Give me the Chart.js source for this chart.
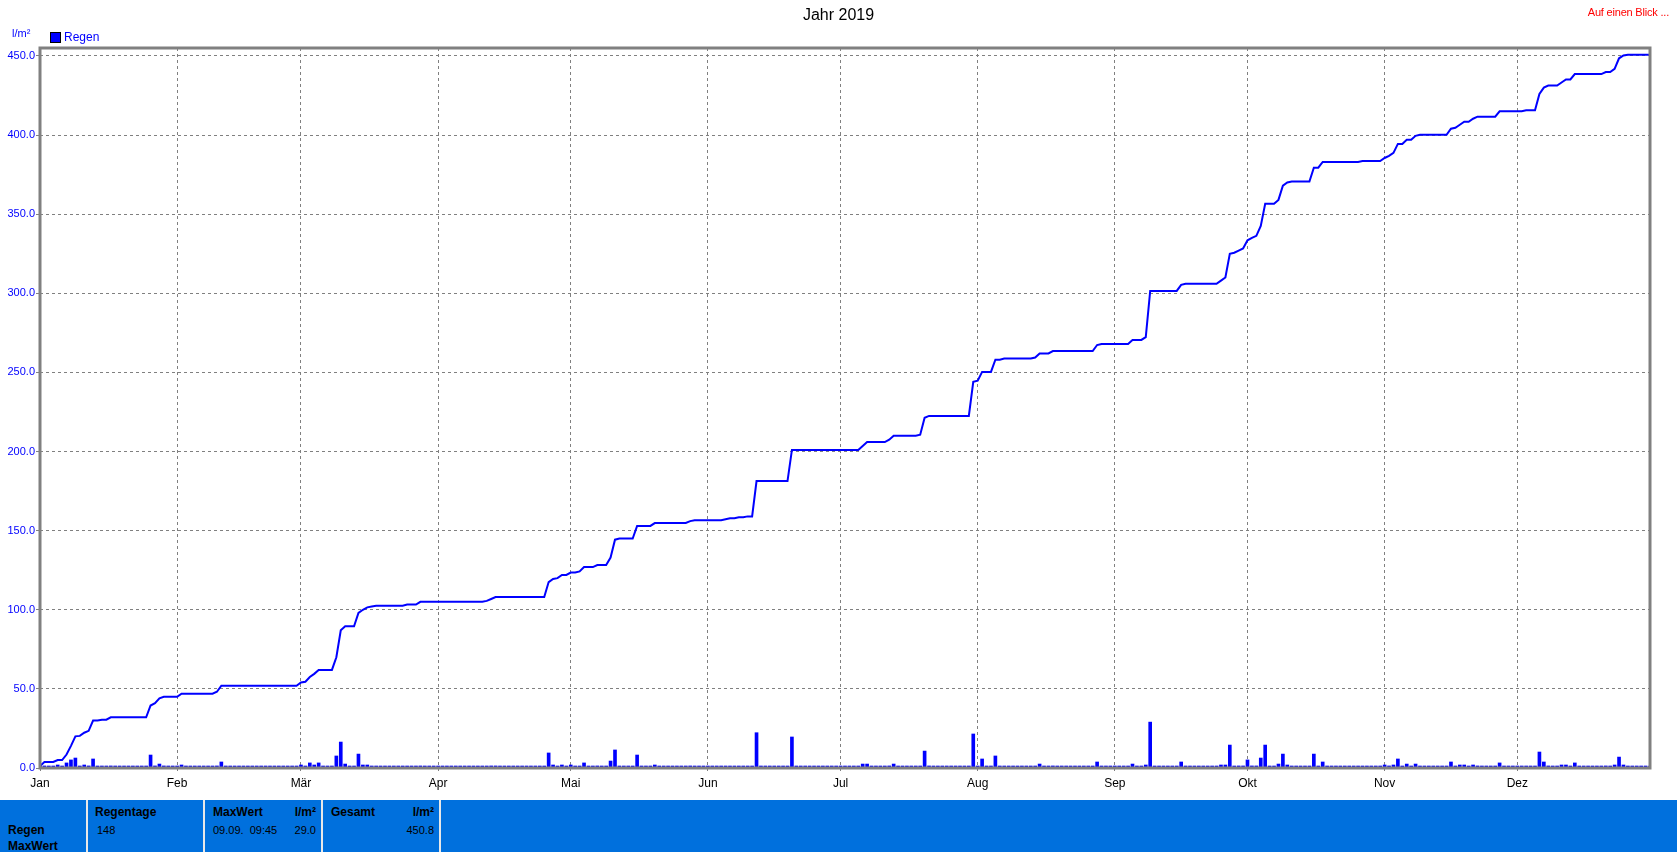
<!DOCTYPE html>
<html lang="de">
<head>
  <meta charset="UTF-8">
  <title>Jahr 2019 - Regen</title>
  <script src="https://cdn.jsdelivr.net/npm/chart.js"></script>
  <style>
    body { margin: 0; background: #fff; font-family: "Liberation Sans", Arial, sans-serif; }
    #wrap { position: relative; width: 1677px; height: 852px; overflow: hidden; }
    #regenChart { position: absolute; left: 0; top: 0; }
    .txt { position: absolute; white-space: pre; line-height: 14px; }
    #title { left: 0; width: 1677px; top: 8px; text-align: center; font-size: 16px; color: #000; }
    #blick { right: 8px; top: 5px; font-size: 11px; letter-spacing: -0.2px; color: #ff0000; }
    #unit { left: 12px; top: 26px; font-size: 11px; color: #0000ff; }
    #legendBox { position: absolute; left: 50px; top: 32px; width: 9px; height: 9px; background: #0000ff; border: 1px solid #000; }
    #legendText { left: 64px; top: 30px; font-size: 12px; color: #0000ff; }
    #panel { position: absolute; left: 0; top: 800px; width: 1677px; height: 52px; background: #0070dd; }
    .sep { position: absolute; top: 0; width: 2px; height: 52px; background: #e8e8e8; }
    .b { font-weight: bold; font-size: 12px; color: #000; }
    .n { font-size: 11px; color: #000; }
  </style>
</head>
<body>
<div id="wrap">
  <canvas id="regenChart" width="1677" height="800"></canvas>
  <div class="txt" id="title">Jahr 2019</div>
  <div class="txt" id="blick">Auf einen Blick ...</div>
  <div class="txt" id="unit">l/m²</div>
  <div id="legendBox"></div>
  <div class="txt" id="legendText">Regen</div>

  <div id="panel">
    <div class="sep" style="left:86px"></div>
    <div class="sep" style="left:203px"></div>
    <div class="sep" style="left:321px"></div>
    <div class="sep" style="left:439px"></div>

    <div class="txt b" style="left:8px; top:23px">Regen</div>
    <div class="txt b" style="left:8px; top:39px">MaxWert</div>

    <div class="txt b" style="left:95px; top:5px">Regentage</div>
    <div class="txt n" style="left:97px; top:23px">148</div>

    <div class="txt b" style="left:213px; top:5px">MaxWert</div>
    <div class="txt b" style="right:1361px; top:5px">l/m²</div>
    <div class="txt n" style="left:213px; top:23px">09.09.  09:45</div>
    <div class="txt n" style="right:1361px; top:23px">29.0</div>

    <div class="txt b" style="left:331px; top:5px">Gesamt</div>
    <div class="txt b" style="right:1243px; top:5px">l/m²</div>
    <div class="txt n" style="right:1243px; top:23px">450.8</div>
  </div>
</div>

<script>
  // month ticks (day of year, 0 = 1. Jan)
  const monthStartDays = [0, 31, 59, 90, 120, 151, 181, 212, 243, 273, 304, 334];
  const monthLabels = ['Jan', 'Feb', 'Mär', 'Apr', 'Mai', 'Jun', 'Jul', 'Aug', 'Sep', 'Okt', 'Nov', 'Dez'];
  const yTickValues = [0, 50, 100, 150, 200, 250, 300, 350, 400, 450];

  // daily rain (l/m²), only days with rain listed
  const rainDays = [0, 1, 4, 6, 7, 8, 10, 11, 12, 14, 16, 25, 26, 27, 28, 32, 40, 41,
    59, 61, 62, 63, 67, 68, 69, 72, 73, 74, 75, 76, 83, 86,
    101, 102, 103, 115, 116, 117, 118, 120, 122, 123, 126, 129, 130, 131, 135, 139, 147, 148,
    155, 156, 158, 160, 162, 170, 186, 187, 192, 193, 199, 200, 201,
    211, 212, 213, 216, 218, 225, 226, 229, 239, 240,
    247, 250, 251, 258, 259, 267, 268, 269, 270, 271, 272,
    273, 274, 275, 276, 277, 280, 281, 282, 283, 288, 290, 299,
    304, 305, 306, 307, 309, 311, 312, 319, 320, 321, 322, 324, 325, 330,
    336, 339, 340, 341, 344, 345, 347, 354, 356, 357, 358, 359];
  const rainMm = [2.5, 1.3, 1.9, 3.2, 5.1, 6.3, 1.9, 1.3, 5.7, 0.6, 1.3, 8.2, 1.3, 2.5, 1.3, 1.9, 1.3, 3.8,
    1.9, 3.2, 1.9, 3.2, 7.6, 16.4, 2.5, 8.8, 1.9, 1.9, 0.8, 0.8, 0.8, 1.3,
    0.6, 1.3, 1.3, 9.5, 1.9, 0.6, 1.9, 1.9, 0.6, 3.2, 1.3, 4.4, 11.4, 0.6, 8.2, 1.9, 1.3, 0.6,
    0.6, 0.6, 0.6, 0.6, 22.3, 19.6, 2.5, 2.5, 1.3, 2.5, 0.6, 10.7, 1.3,
    21.5, 0.6, 5.7, 7.6, 0.6, 0.6, 2.5, 1.3, 3.8, 0.6,
    2.5, 1.9, 29.0, 3.8, 0.6, 1.9, 1.9, 14.5, 0.6, 1.3, 1.3,
    5.1, 1.3, 1.3, 6.3, 14.5, 2.5, 8.8, 1.9, 0.6, 8.8, 3.8, 0.6,
    1.9, 1.3, 1.9, 5.7, 2.5, 2.5, 0.6, 3.8, 0.6, 1.9, 1.9, 1.9, 1.3, 3.2,
    0.6, 10.1, 3.8, 1.3, 1.9, 1.9, 3.2, 1.3, 1.9, 6.9, 1.9, 0.6];

  // running total line (l/m²), read at its corners
  const sumDays = [0, 1, 3, 4, 5, 6, 7, 8, 9, 10, 11, 12, 13, 14, 15, 16, 24, 25, 26, 27, 28, 31, 32, 39, 40, 41,
    58, 59, 60, 61, 62, 63, 66, 67, 68, 69, 71, 72, 73, 74, 75, 76, 82, 83, 85, 86,
    100, 101, 102, 103, 114, 115, 116, 117, 118, 119, 120, 121, 122, 123, 125, 126, 128, 129, 130, 131,
    134, 135, 138, 139, 146, 147, 148, 154, 155, 156, 157, 158, 159, 160, 161, 162, 169, 170,
    185, 186, 187, 191, 192, 193, 198, 199, 200, 201, 210, 211, 212, 213, 215, 216, 217, 218,
    224, 225, 226, 228, 229, 238, 239, 240, 246, 247, 249, 250, 251, 257, 258, 259,
    266, 267, 268, 269, 270, 271, 272, 273, 274, 275, 276, 277, 279, 280, 281, 282, 283, 287, 288, 289, 290,
    298, 299, 303, 304, 305, 306, 307, 308, 309, 310, 311, 312, 318, 319, 320, 321, 322, 323, 324, 325,
    329, 330, 335, 336, 338, 339, 340, 341, 343, 344, 345, 346, 347, 353, 354, 355, 356, 357, 358, 359, 364];
  const sumMm = [1.2, 3.8, 3.8, 5.0, 5.0, 8.5, 14, 20, 20.3, 22.3, 23.5, 30, 30, 30.5, 30.5, 32, 32, 39.5, 41, 44, 45, 45, 47, 47, 48.2, 52,
    52, 54, 54.5, 57.5, 59.5, 62, 62, 70, 87, 89.5, 89.5, 98, 100, 101.5, 102, 102.5, 102.5, 103.3, 103.3, 105,
    105, 105.6, 106.8, 108, 108, 117.5, 119.5, 120, 122, 122, 123.5, 123.5, 124.2, 127, 127, 128.3, 128.3, 133, 144.3, 145,
    145, 153, 153, 154.8, 154.8, 156, 156.6, 156.6, 157.2, 157.8, 157.8, 158.4, 158.4, 159, 159, 181.3, 181.3, 201,
    201, 203.5, 206, 206, 207.5, 210, 210, 210.6, 221.3, 222.5, 222.5, 244, 244.8, 250.3, 250.3, 258, 258, 258.8,
    258.8, 259.4, 262, 262, 263.5, 263.5, 267.3, 268, 268, 270.5, 270.5, 272.3, 301.5, 301.5, 305.3, 306,
    306, 308, 310, 325, 325.6, 327, 328.3, 333.5, 335, 336.3, 342.5, 356.5, 356.5, 359, 368, 370, 370.6, 370.6, 379.4, 379.4, 383,
    383, 383.6, 383.6, 385.5, 386.8, 388.7, 394.4, 394.4, 397, 397, 399.5, 400.1, 400.1, 404, 404.6, 406.5, 408.4, 408.4, 410.3, 411.6,
    411.6, 415, 415, 415.6, 415.6, 426, 430, 431.3, 431.3, 433.2, 435.1, 435.1, 438.5, 438.5, 439.8, 439.8, 441.8, 448.5, 450.3, 450.8, 450.8];

  // one bar per day, dry days stay at 0 (shown as small dots)
  const dailyRain = [];
  for (let d = 0; d < 365; d++) dailyRain.push({ x: d, y: 0 });
  rainDays.forEach((d, i) => { dailyRain[d].y = rainMm[i]; });

  const sumLine = sumDays.map((d, i) => ({ x: d, y: sumMm[i] }));

  // gray frame round the plot area
  const framePlugin = {
    id: 'frame',
    afterDatasetsDraw(chart) {
      const a = chart.chartArea;
      const ctx = chart.ctx;
      ctx.save();
      ctx.strokeStyle = '#808080';
      ctx.lineWidth = 3;
      ctx.strokeRect(a.left, a.top, a.right - a.left, a.bottom - a.top);
      ctx.restore();
    }
  };

  Chart.defaults.font.family = '"Liberation Sans", Arial, sans-serif';

  new Chart(document.getElementById('regenChart'), {
    type: 'bar',
    data: {
      datasets: [
        {
          type: 'line',
          label: 'Summe',
          data: sumLine,
          borderColor: '#0000ff',
          borderWidth: 2,
          pointRadius: 0,
          tension: 0,
          order: 1
        },
        {
          label: 'Regen',
          data: dailyRain,
          backgroundColor: '#0000ff',
          barThickness: 3,
          minBarLength: 2,
          order: 2
        }
      ]
    },
    options: {
      responsive: false,
      animation: false,
      layout: { padding: { left: 0, top: 48, right: 27, bottom: 0 } },
      plugins: {
        legend: { display: false },
        title: { display: false },
        tooltip: { enabled: false }
      },
      scales: {
        x: {
          type: 'linear',
          min: 0,
          max: 364,
          offset: false,
          afterBuildTicks: s => { s.ticks = monthStartDays.map(v => ({ value: v })); },
          afterFit: s => { s.height = 32; },
          ticks: {
            color: '#000',
            font: { size: 12 },
            padding: 2,
            maxRotation: 0,
            autoSkip: false,
            callback: v => monthLabels[monthStartDays.indexOf(v)]
          },
          grid: {
            offset: false,
            color: '#808080',
            tickBorderDash: [3, 3],
            tickLength: 6,
            tickColor: '#808080'
          },
          border: { display: false, dash: [3, 3] }
        },
        y: {
          min: 0,
          max: 455,
          afterBuildTicks: s => { s.ticks = yTickValues.map(v => ({ value: v })); },
          afterFit: s => { s.width = 40; },
          ticks: {
            color: '#0000ff',
            font: { size: 11 },
            padding: 1,
            callback: v => v.toFixed(1)
          },
          grid: {
            color: '#808080',
            tickBorderDash: [],
            tickLength: 4,
            tickColor: '#808080'
          },
          border: { display: false, dash: [3, 3] }
        }
      }
    },
    plugins: [framePlugin]
  });
</script>
</body>
</html>
